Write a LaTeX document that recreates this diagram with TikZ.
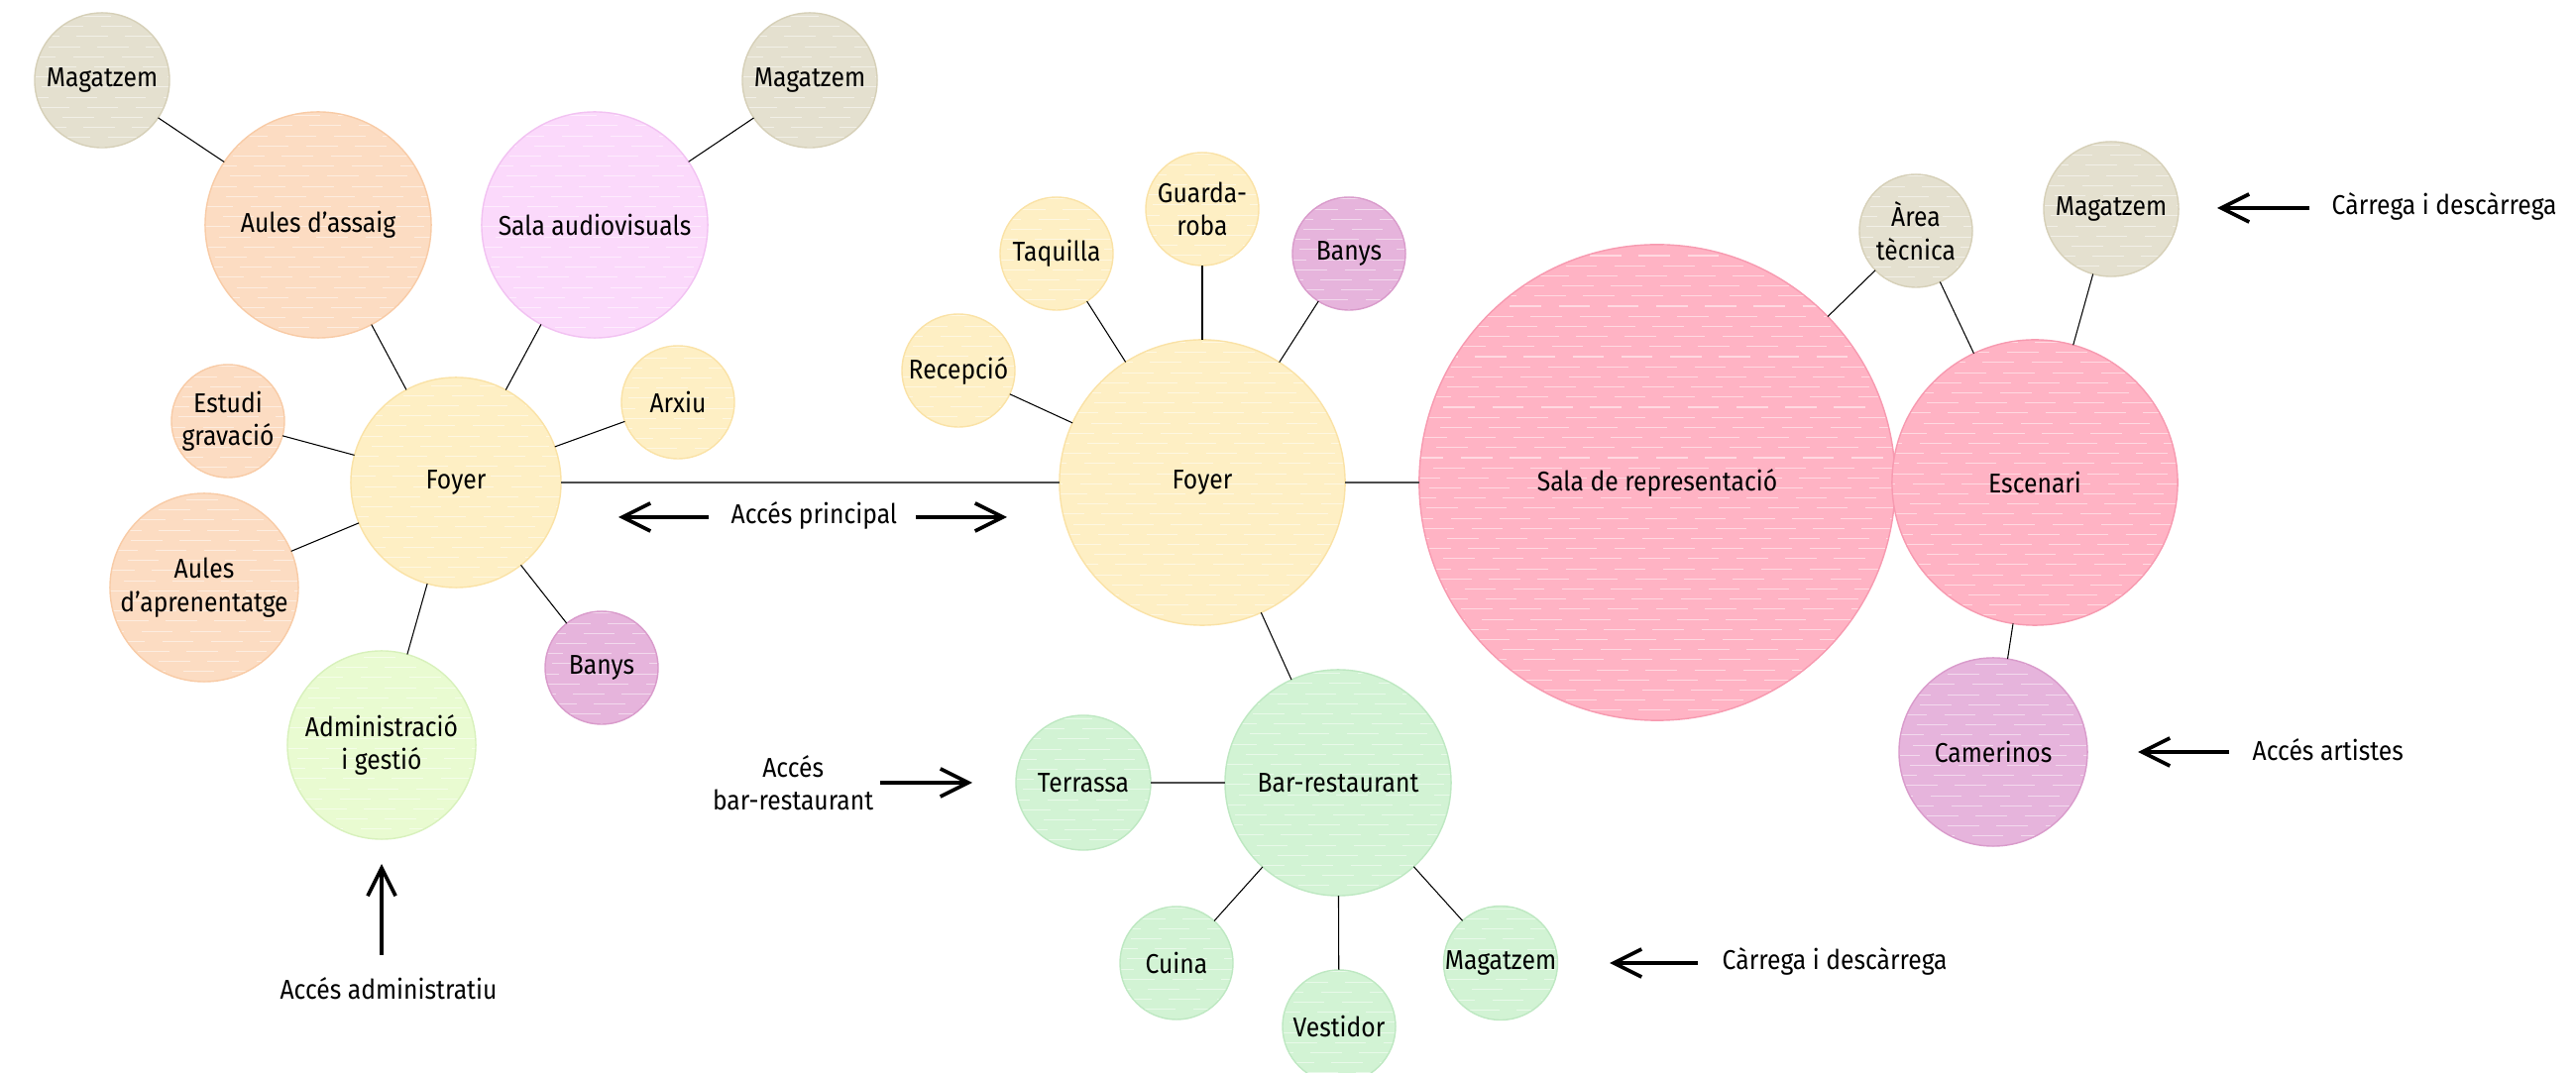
\documentclass[tikz,border=0pt]{standalone}
\usepackage{fontspec}
\setmainfont[FakeStretch=0.9]{Fira Sans}
\usetikzlibrary{arrows.meta}
\definecolor{magF}{HTML}{E4E0CF}\definecolor{magD}{HTML}{D6D0B8}
\definecolor{oraF}{HTML}{FCDCC2}\definecolor{oraD}{HTML}{F8CBA6}
\definecolor{lilF}{HTML}{FBD9FB}\definecolor{lilD}{HTML}{F2C2F2}
\definecolor{yelF}{HTML}{FEEFC4}\definecolor{yelD}{HTML}{FAE2A6}
\definecolor{purF}{HTML}{E6B4DC}\definecolor{purD}{HTML}{D99BCB}
\definecolor{admF}{HTML}{E9FBD1}\definecolor{admD}{HTML}{D8F1BC}
\definecolor{grnF}{HTML}{D2F3D4}\definecolor{grnD}{HTML}{BEE8C2}
\definecolor{pnkF}{HTML}{FFB3C4}\definecolor{pnkD}{HTML}{F79AB0}
\begin{document}
\begin{tikzpicture}[x=0.01cm,y=-0.01cm,
  txt/.style={font=\fontsize{7.8}{9.5}\selectfont, align=center, inner sep=0pt},
  hatch/.style={path picture={
    \foreach \k [evaluate=\k as \ph using {mod(\k*37,15)}] in {0,...,50}{
      \draw[white, opacity=.5, line width=.3pt, dash pattern=on 9pt off 5pt, dash phase=\ph pt]
        ([yshift=\k*2.9pt]path picture bounding box.south west) --
        ([yshift=\k*2.9pt]path picture bounding box.south east);
    }}},
  room/.style={circle, inner sep=0pt, outer sep=0pt, minimum size=#1, line width=.4pt,
    font=\fontsize{7.8}{9.5}\selectfont, align=center, hatch},
  mag/.style={fill=magF, draw=magD},
  ora/.style={fill=oraF, draw=oraD},
  lil/.style={fill=lilF, draw=lilD},
  yel/.style={fill=yelF, draw=yelD},
  pur/.style={fill=purF, draw=purD},
  adm/.style={fill=admF, draw=admD},
  grn/.style={fill=grnF, draw=grnD},
  pnk/.style={fill=pnkF, draw=pnkD},
  link/.style={draw=black, line width=.3pt},
  mainlink/.style={draw=black!70, line width=.55pt},
  acc/.style={-{Straight Barb[length=8pt,width=8pt]}, line width=1.05pt, black}
]
\clip (0,0) rectangle (2599,1083);
\useasboundingbox (0,0) rectangle (2599,1083);

% left cluster
\node[room=1.36cm, mag] (magTL) at (103,81) {Magatzem};
\node[room=2.28cm, ora] (aulesA) at (321,227) {Aules d’assaig};
\node[room=2.28cm, lil] (salaAV) at (600,227) {Sala audiovisuals};
\node[room=1.36cm, mag] (magTR) at (817,81) {Magatzem};
\node[room=2.12cm, yel] (foyL) at (460,487) {Foyer};
\node[room=1.14cm, yel] (arxiu) at (684,406) {Arxiu};
\node[room=1.14cm, ora] (estudi) at (230,425) {Estudi\\gravació};
\node[room=1.90cm, ora] (aulesB) at (206,593) {Aules\\d’aprenentatge};
\node[room=1.14cm, pur] (banysL) at (607,674) {Banys};
\node[room=1.90cm, adm] (admin) at (385,752) {Administració\\i gestió};

% middle cluster
\node[room=2.88cm, yel] (foyM) at (1213,487) {Foyer};
\node[room=1.14cm, yel] (recep) at (967,374) {Recepció};
\node[room=1.14cm, yel] (taq) at (1066,256) {Taquilla};
\node[room=1.14cm, yel] (guarda) at (1213,211) {Guarda-\\roba};
\node[room=1.14cm, pur] (banysM) at (1361,256) {Banys};
\node[room=2.28cm, grn] (bar) at (1350,790) {Bar-restaurant};
\node[room=1.36cm, grn] (terr) at (1093,790) {Terrassa};
\node[room=1.14cm, grn] (cuina) at (1187,972) {Cuina};
\node[room=1.14cm, grn] (vest) at (1351,1036) {Vestidor};
\node[room=1.14cm, grn] (magB) at (1514,972) {Magatzem};

% right cluster
\node[room=4.80cm, pnk] (sala) at (1672,487) {Sala de representació};
\node[room=2.88cm, pnk] (escen) at (2053,487) {Escenari};
\node[room=1.14cm, mag] (area) at (1933,233) {Àrea\\tècnica};
\node[room=1.36cm, mag] (magR) at (2130,211) {Magatzem};
\node[room=1.90cm, pur] (camer) at (2011,759) {Camerinos};

% connectors
\draw[link] (magTL) -- (aulesA);
\draw[link] (magTR) -- (salaAV);
\draw[link] (aulesA) -- (foyL);
\draw[link] (salaAV) -- (foyL);
\draw[link] (arxiu) -- (foyL);
\draw[link] (estudi) -- (foyL);
\draw[link] (aulesB) -- (foyL);
\draw[link] (banysL) -- (foyL);
\draw[link] (admin) -- (foyL);
\draw[mainlink] (foyL) -- (foyM);
\draw[link] (foyM) -- (recep);
\draw[link] (foyM) -- (taq);
\draw[link] (foyM) -- (guarda);
\draw[link] (foyM) -- (banysM);
\draw[link] (foyM) -- (bar);
\draw[mainlink] (foyM) -- (sala);
\draw[link] (sala) -- (area);
\draw[link] (area) -- (escen);
\draw[link] (magR) -- (escen);
\draw[link] (escen) -- (camer);
\draw[mainlink] (bar) -- (terr);
\draw[link] (bar) -- (cuina);
\draw[link] (bar) -- (vest);
\draw[link] (bar) -- (magB);

% access labels and arrows
\node[txt, anchor=west] (lprin) at (737,520) {Accés principal};
\coordinate (p1t) at (715,522); \coordinate (p1h) at (624,522);
\coordinate (p2t) at (924,522); \coordinate (p2h) at (1016,522);
\draw[acc] (p1t) -- (p1h);
\draw[acc] (p2t) -- (p2h);

\node[txt, anchor=east] (lbar) at (882,790) {Accés\\bar-restaurant};
\coordinate (bt) at (888,790); \coordinate (bh) at (981,790);
\draw[acc] (bt) -- (bh);

\node[txt] (ladm) at (392,998) {Accés administratiu};
\coordinate (at) at (385,964); \coordinate (ah) at (385,872);
\draw[acc] (at) -- (ah);

\node[txt, anchor=west] (lcb) at (1737,970) {Càrrega i descàrrega};
\coordinate (ct) at (1713,972); \coordinate (ch) at (1624,972);
\draw[acc] (ct) -- (ch);

\node[txt, anchor=west] (lct) at (2352,208) {Càrrega i descàrrega};
\coordinate (rt) at (2330,210); \coordinate (rh) at (2237,210);
\draw[acc] (rt) -- (rh);

\node[txt, anchor=west] (lart) at (2272,757) {Accés artistes};
\coordinate (st) at (2249,759); \coordinate (sh) at (2157,759);
\draw[acc] (st) -- (sh);
\end{tikzpicture}
\end{document}
